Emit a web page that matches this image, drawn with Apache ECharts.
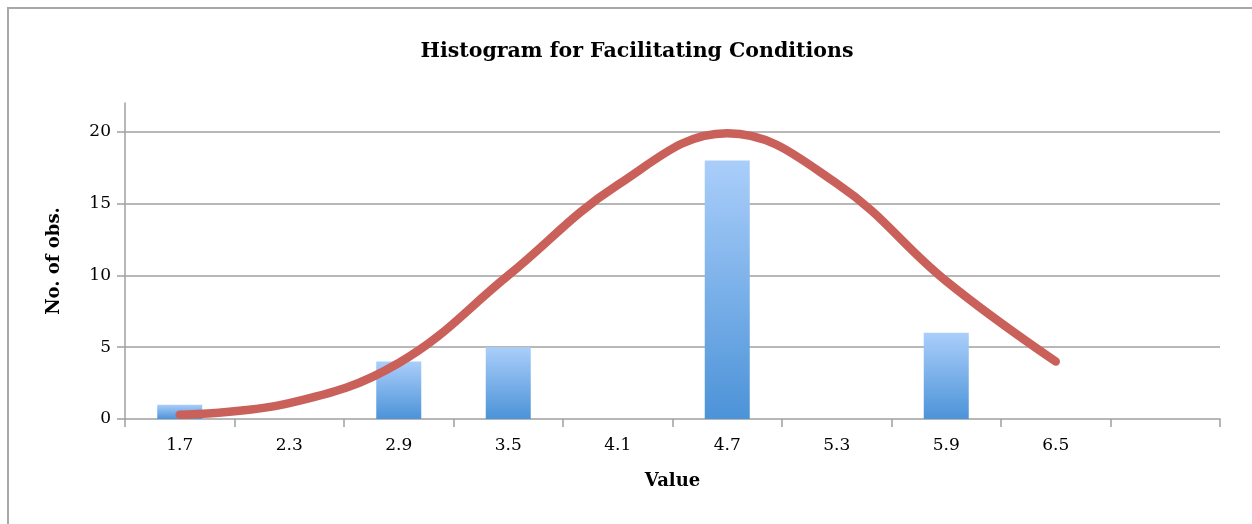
<!DOCTYPE html>
<html>
<head>
<meta charset="utf-8">
<script src="https://cdn.jsdelivr.net/npm/echarts@6/dist/echarts.min.js"></script>
<style>
  html, body { margin: 0; padding: 0; background: #fff; }
  #chart { width: 1252px; height: 524px; }
</style>
</head>
<body>
<div id="chart"></div>
<script>
var chartDom = document.getElementById('chart');
var myChart = echarts.init(chartDom);

// histogram data
var categories = ['1.7', '2.3', '2.9', '3.5', '4.1', '4.7', '5.3', '5.9', '6.5', ''];
var counts = [1, null, 4, 5, null, 18, null, 6, null, null];
// normal curve
var normalCurve = [0.3, 1.1, 3.9, 10.0, 16.3, 19.9, 16.4, 9.6, 4.0, null];
var yTicks = [0, 5, 10, 15, 20];

var fontFam = '"DejaVu Serif", "Liberation Serif", serif';

var option = {
  animation: false,
  backgroundColor: '#fff',
  title: {
    text: 'Histogram for Facilitating Conditions',
    left: 632,
    top: 36,
    textAlign: 'center',
    textStyle: { fontFamily: fontFam, fontSize: 20.5, fontWeight: 'bold', color: '#000' }
  },
  graphic: [{
    type: 'rect',
    shape: { x: 8, y: 8, width: 1270, height: 540 },
    style: { fill: 'none', stroke: '#a8a8a8', lineWidth: 2 },
    silent: true
  }],
  grid: { left: 125, right: 32, top: 103, bottom: 105 },
  xAxis: {
    type: 'category',
    data: categories,
    name: 'Value',
    nameLocation: 'middle',
    nameGap: 53,
    nameTextStyle: { fontFamily: fontFam, fontSize: 18, fontWeight: 'bold', color: '#000' },
    axisLine: { lineStyle: { color: '#a0a0a0', width: 1.5 } },
    axisTick: { show: true, length: 8, lineStyle: { color: '#a0a0a0', width: 1.5 } },
    axisLabel: { fontFamily: fontFam, fontSize: 17, color: '#000', margin: 18 },
    splitLine: { show: false }
  },
  yAxis: {
    type: 'value',
    min: 0,
    max: 22,
    interval: 5,
    name: 'No. of obs.',
    nameLocation: 'middle',
    nameGap: 62,
    nameRotate: 90,
    nameTextStyle: { fontFamily: fontFam, fontSize: 18, fontWeight: 'bold', color: '#000' },
    axisLine: { show: true, lineStyle: { color: '#a0a0a0', width: 1.5 } },
    axisTick: { show: true, length: 8, customValues: yTicks, lineStyle: { color: '#a0a0a0', width: 1.5 } },
    axisLabel: { fontFamily: fontFam, fontSize: 17, color: '#000', margin: 14, customValues: yTicks },
    splitLine: { show: true, showMinLine: false, lineStyle: { color: '#a0a0a0', width: 1.5 } }
  },
  series: [{
    type: 'bar',
    data: counts,
    barWidth: 45,
    itemStyle: {
      color: new echarts.graphic.LinearGradient(0, 0, 0, 1, [
        { offset: 0, color: '#aacefa' },
        { offset: 1, color: '#4c93d8' }
      ])
    }
  }, {
    type: 'line',
    data: normalCurve,
    smooth: 0.4,
    symbol: 'none',
    z: 5,
    lineStyle: { color: '#c9605a', width: 8.5, cap: 'round', join: 'round' }
  }]
};

myChart.setOption(option);
</script>
</body>
</html>
